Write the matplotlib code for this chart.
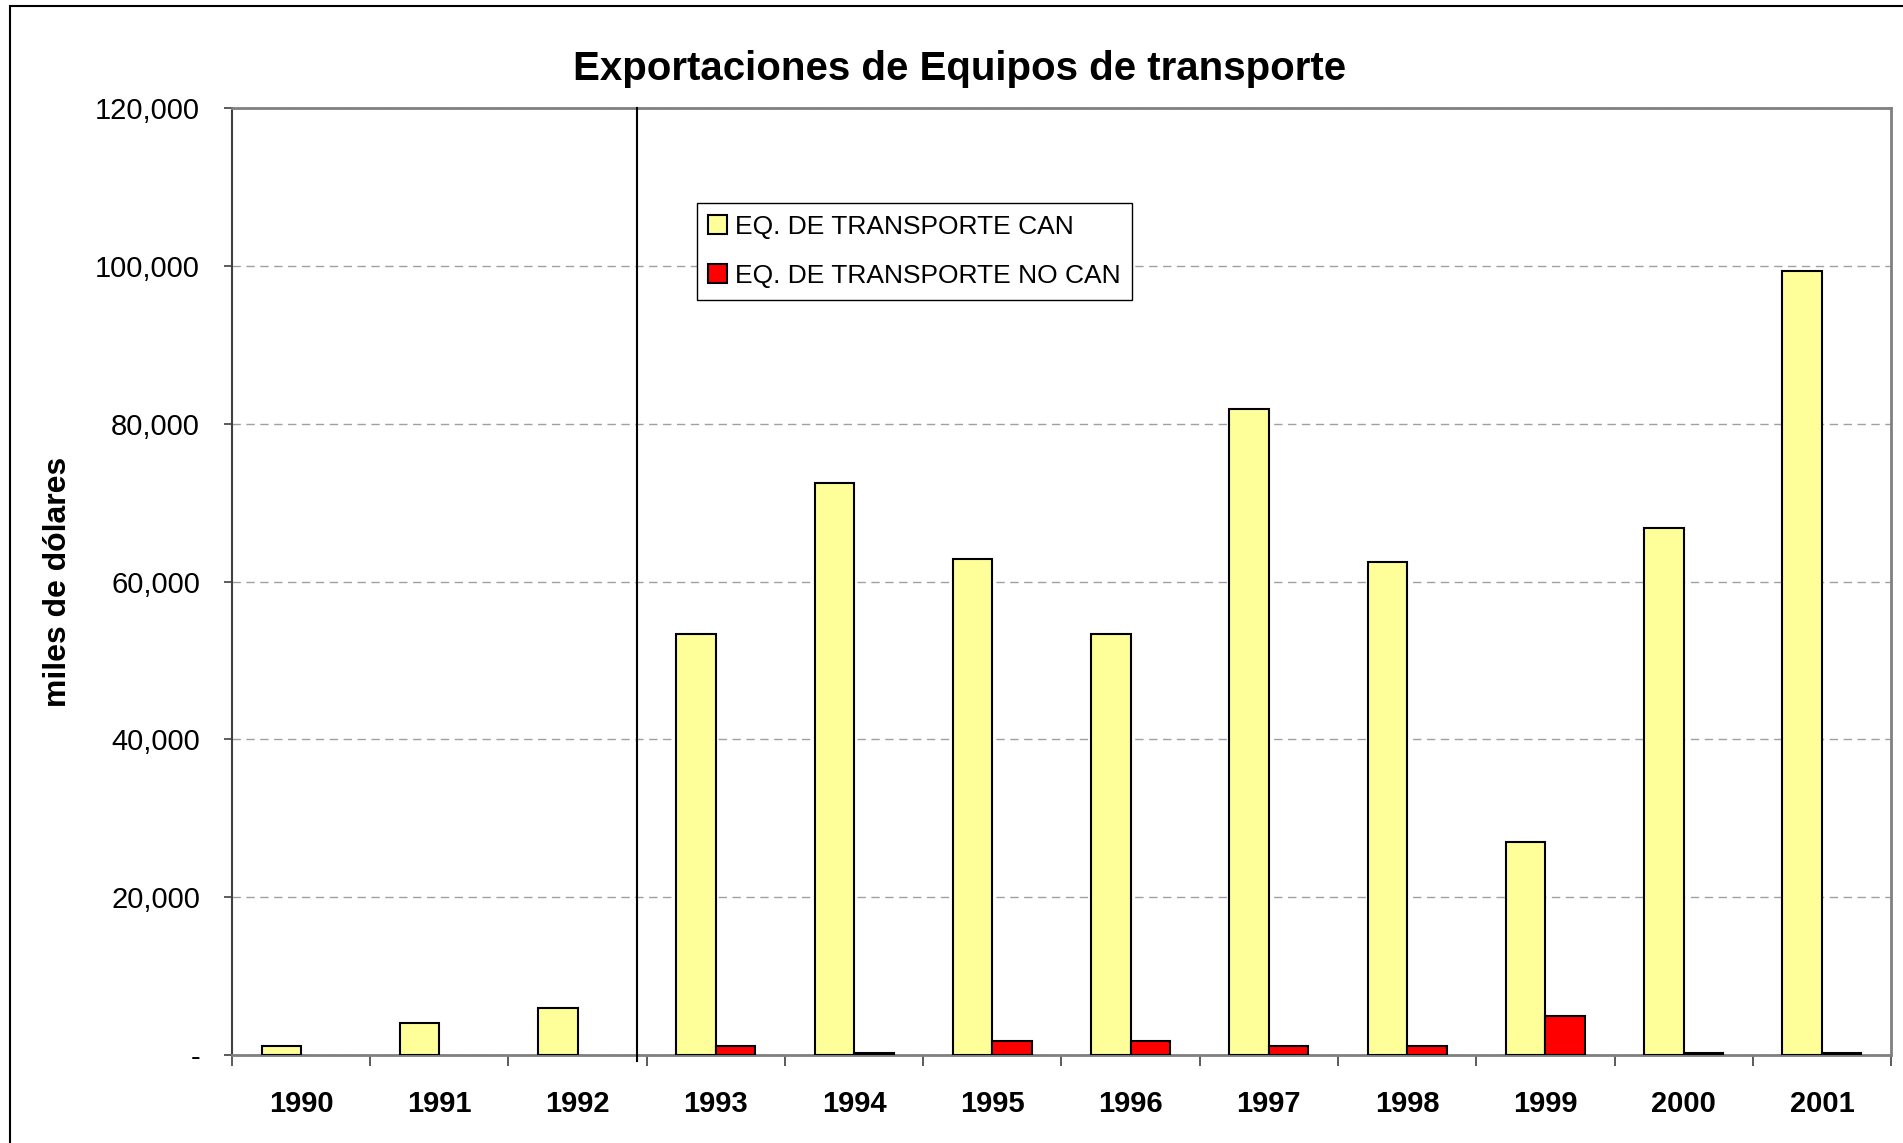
import numpy as np
import matplotlib.pyplot as plt
from matplotlib.patches import Rectangle
from matplotlib.ticker import FuncFormatter

plt.rcParams['font.family'] = ['Liberation Sans', 'DejaVu Sans']

# data (miles de dólares)
years = ['1990', '1991', '1992', '1993', '1994', '1995', '1996',
         '1997', '1998', '1999', '2000', '2001']
can = [1100, 4000, 6000, 53400, 72500, 62800, 53400, 81800, 62500, 27000, 66800, 99400]
no_can = [0, 0, 0, 1100, 300, 1800, 1800, 1200, 1200, 4900, 300, 300]

fig = plt.figure(figsize=(19.03, 11.43), dpi=100)
ax = fig.add_axes([0.1219, 0.0770, 0.8718, 0.8285])

x = np.arange(len(years))
w = 0.285
# zero values are not drawn (no edge line at the baseline)
no_can_h = np.where(np.array(no_can) > 0, no_can, np.nan)
ax.bar(x - w / 2, can, width=w, color='#FFFF99', edgecolor='black', linewidth=1.5,
       label='EQ. DE TRANSPORTE CAN', zorder=3)
ax.bar(x + w / 2, no_can_h, width=w, color='#FF0000', edgecolor='black', linewidth=1.5,
       label='EQ. DE TRANSPORTE NO CAN', zorder=3)

ax.set_xlim(-0.5, len(years) - 0.5)
ax.set_ylim(0, 120000)
ax.set_yticks(np.arange(0, 120001, 20000))
ax.yaxis.set_major_formatter(FuncFormatter(lambda v, p: '-' if v == 0 else f'{v:,.0f}'))
ax.tick_params(axis='y', labelsize=21, length=6, width=1.2, pad=17, color='#404040')

# ticks between categories, labels at centres
ax.set_xticks(np.arange(-0.5, len(years), 1))
ax.set_xticklabels([])
ax.set_xticks(x, minor=True)
ax.set_xticklabels(years, minor=True, fontsize=21, fontweight='bold')
ax.tick_params(axis='x', which='major', length=8, width=1.2, color='#404040')
ax.tick_params(axis='x', which='minor', length=0, pad=25)

ax.grid(axis='y', linestyle=(0, (6, 4)), color='#A0A0A0', linewidth=1, zorder=0)
for s in ['top', 'right', 'bottom']:
    ax.spines[s].set_color('#808080')
    ax.spines[s].set_linewidth(2)
ax.spines['left'].set_color('#404040')
ax.spines['left'].set_linewidth(1.5)

# separator between 1992 and 1993
ax.plot([2.43, 2.43], [-0.006, 1], transform=ax.get_xaxis_transform(),
        color='black', linewidth=1.5, clip_on=False, zorder=4)

ax.set_ylabel('miles de dólares', fontsize=23, fontweight='bold')
ax.yaxis.set_label_coords(-0.096, 0.5)

leg = ax.legend(loc='upper left', bbox_to_anchor=(0.280, 0.900), borderaxespad=0,
                fontsize=19, fancybox=False, framealpha=1, edgecolor='black',
                handlelength=0.7, handleheight=0.7, handletextpad=0.3,
                labelspacing=0.95, borderpad=0.45)
leg.get_frame().set_linewidth(1.0)

fig.text(0.504, 0.940, 'Exportaciones de Equipos de transporte', ha='center', va='center',
         fontsize=29, fontweight='bold')

# chart-area border
fig.patches.append(Rectangle((10 / 1903, -0.02), 1.05, 0.9948 + 0.02,
                             transform=fig.transFigure, fill=False,
                             edgecolor='black', linewidth=1.5))

fig.savefig('out.png', dpi=100)
